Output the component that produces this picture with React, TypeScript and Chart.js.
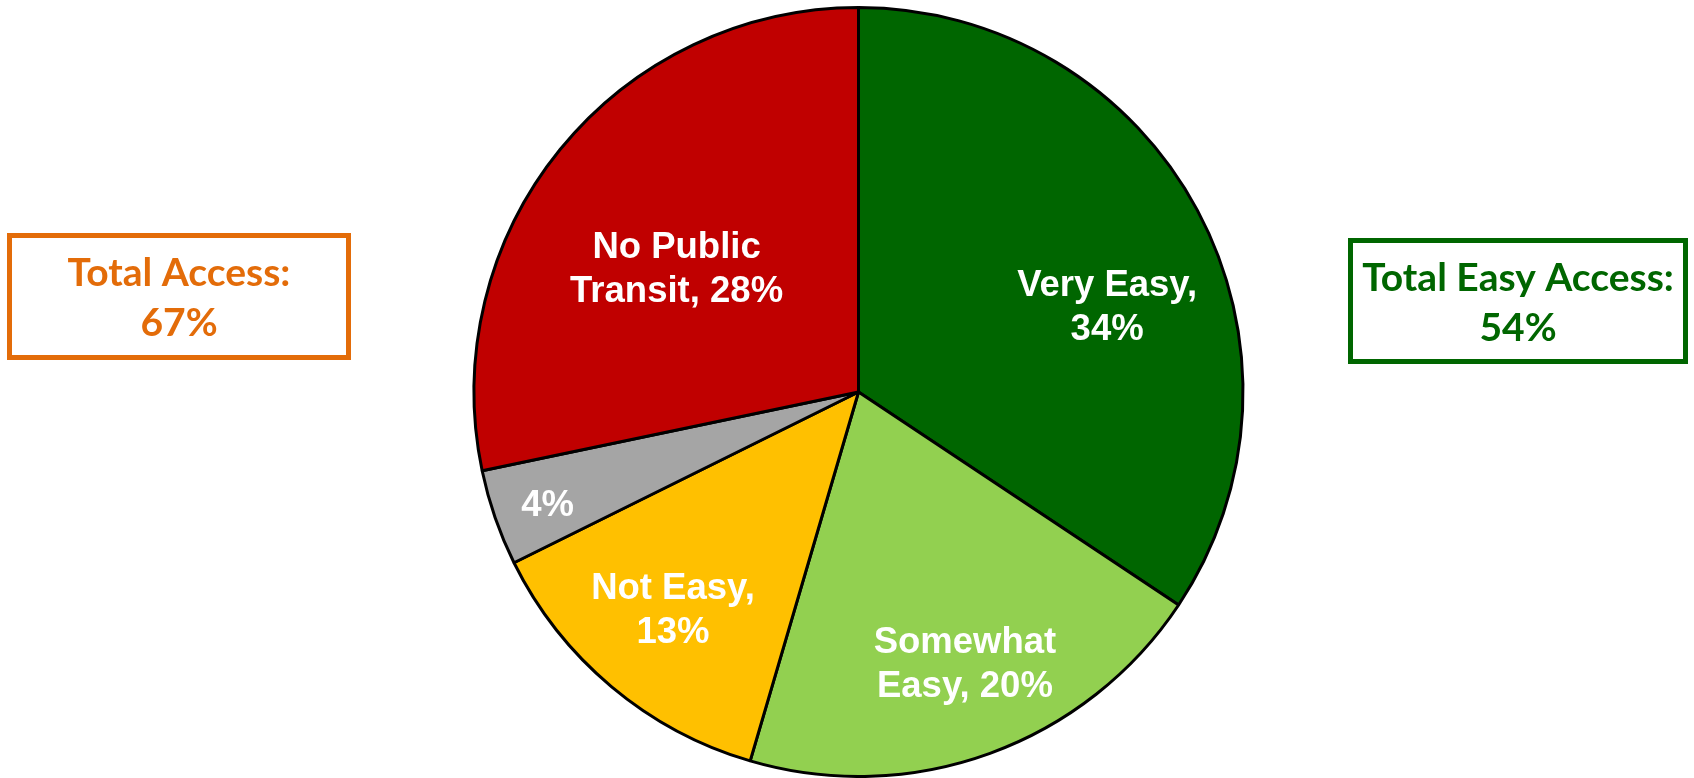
import React, { useEffect, useRef } from "react";
import { Chart, registerables } from "chart.js";

Chart.register(...registerables);

const categories = ["Very Easy", "Somewhat Easy", "Not Easy", "Other", "No Public Transit"];
const values = [34, 20, 13, 4, 28];
const sliceLabels = [["Very Easy,", "34%"], ["Somewhat", "Easy, 20%"], ["Not Easy,", "13%"], ["4%"], ["No Public", "Transit, 28%"]];
const sliceColors = ["#006600", "#92D050", "#FFC000", "#A5A5A5", "#C00000"];
// label placement tweaks (radius fraction, angle shift in degrees)
const labelRadius = [0.685, 0.755, 0.74, 0.858, 0.574];
const labelShift = [8.9, -1.5, 0.7, -0.5, -4.6];

const leftBoxLines = ["Total Access:", "67%"];
const rightBoxLines = ["Total Easy Access:", "54%"];

const LABEL_FS = 36.5;
const BOX_FS = 39;
const LABEL_FONT = `bold ${LABEL_FS}px 'Liberation Sans', Arial, sans-serif`;
const BOX_FONT = `bold ${BOX_FS}px Lato, 'Open Sans', sans-serif`;

const overlayPlugin = {
  id: "overlay",
  afterDraw(chart: any) {
    const ctx = chart.ctx as CanvasRenderingContext2D;
    const meta = chart.getDatasetMeta(0);
    ctx.save();
    ctx.fillStyle = "#ffffff";
    ctx.font = LABEL_FONT;
    ctx.textAlign = "center";
    ctx.textBaseline = "alphabetic";
    const lh = 43.5;
    meta.data.forEach((arc: any, i: number) => {
      const p = arc.getProps(["x", "y", "startAngle", "endAngle", "outerRadius"], true);
      const mid = (p.startAngle + p.endAngle) / 2 + (labelShift[i] * Math.PI) / 180;
      const r = p.outerRadius * labelRadius[i];
      const cx = p.x + Math.cos(mid) * r;
      const cy = p.y + Math.sin(mid) * r;
      const lines = sliceLabels[i];
      const n = lines.length;
      lines.forEach((t, j) => {
        const capCenter = cy + (j - (n - 1) / 2) * lh;
        ctx.fillText(t, cx, capCenter + 0.358 * LABEL_FS);
      });
    });

    const drawBox = (x: number, y: number, w: number, h: number, color: string, lines: string[], c1: number) => {
      ctx.strokeStyle = color;
      ctx.lineWidth = 5;
      ctx.strokeRect(x + 2.5, y + 2.5, w - 5, h - 5);
      ctx.fillStyle = color;
      ctx.font = BOX_FONT;
      lines.forEach((t, j) => {
        ctx.fillText(t, x + w / 2, c1 + j * 50 + 0.36 * BOX_FS);
      });
    };
    drawBox(7, 233, 344, 127, "#E36C09", leftBoxLines, 272);
    drawBox(1348, 238, 340, 126, "#006600", rightBoxLines, 277);
    ctx.restore();
  },
};

export default function App() {
  const ref = useRef<HTMLCanvasElement>(null);
  useEffect(() => {
    if (!ref.current) return;
    const chart = new Chart(ref.current, {
      type: "pie",
      data: {
        labels: categories,
        datasets: [
          {
            data: values,
            backgroundColor: sliceColors,
            borderColor: "#000000",
            borderWidth: 3,
            borderAlign: "center",
          } as any,
        ],
      },
      options: {
        animation: false,
        responsive: true,
        maintainAspectRatio: false,
        layout: { padding: { left: 23, right: 0, top: 6, bottom: 0 } },
        plugins: { legend: { display: false }, tooltip: { enabled: false } },
      },
      plugins: [overlayPlugin],
    });
    return () => chart.destroy();
  }, []);
  return (
    <div style={{ position: "absolute", left: 0, top: 0, width: 1694, height: 778, background: "#fff" }}>
      <canvas ref={ref} />
    </div>
  );
}
